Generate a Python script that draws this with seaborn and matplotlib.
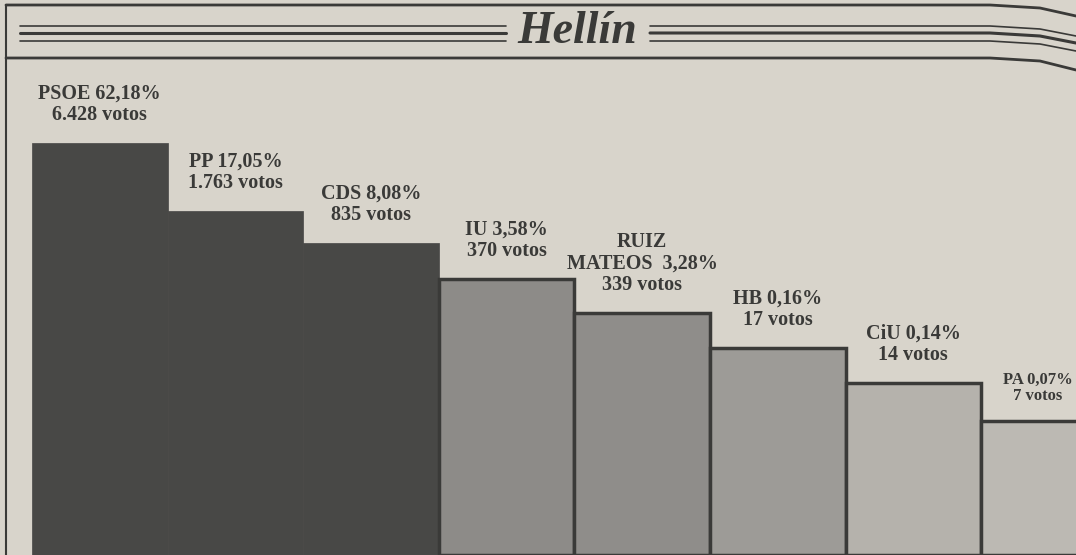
import numpy as np
import pandas as pd
import matplotlib.pyplot as plt
from matplotlib.lines import Line2D
import seaborn as sns

sns.set_theme(style="white")
plt.rcParams['font.family'] = ['Liberation Serif', 'DejaVu Serif']

# Datos: resultados en Hellín
partidos = ["PSOE", "PP", "CDS", "IU", "RUIZ MATEOS", "HB", "CiU", "PA"]
porcentajes = ["62,18%", "17,05%", "8,08%", "3,58%", "3,28%", "0,16%", "0,14%", "0,07%"]
votos = ["6.428", "1.763", "835", "370", "339", "17", "14", "7"]
# altura de cada escalón tal como sale impreso (escalera decorativa, no proporcional)
altura = [412, 344, 312, 276, 242, 207, 172, 134]
etiquetas = [
    "PSOE 62,18%\n6.428 votos",
    "PP 17,05%\n1.763 votos",
    "CDS 8,08%\n835 votos",
    "IU 3,58%\n370 votos",
    "RUIZ\nMATEOS  3,28%\n339 votos",
    "HB 0,16%\n17 votos",
    "CiU 0,14%\n14 votos",
    "PA 0,07%\n7 votos",
]
colores = ["#484846", "#484846", "#484846", "#8d8b88", "#8f8d8a", "#9d9b97", "#b5b2ac", "#bcb9b3"]

papel = "#d8d4cb"
tinta = "#3a3a38"

df = pd.DataFrame({"partido": partidos, "altura": altura})

fig = plt.figure(figsize=(10.76, 5.55), dpi=100, facecolor=papel)
ax = fig.add_axes([32 / 1076, 0, 1 - 32 / 1076, 485 / 555])
ax.set_facecolor(papel)

sns.barplot(data=df, x="partido", y="altura", hue="partido", palette=colores,
            width=1.0, legend=False, ax=ax, saturation=1)
for i, p in enumerate(ax.patches):
    if i >= 3:
        p.set_edgecolor(tinta)
        p.set_linewidth(2.5)
    else:
        p.set_edgecolor(colores[i])
        p.set_linewidth(0.5)

ax.set_ylim(0, 485)
ax.set_xlim(-0.5, 7.2)
ax.axis("off")

# etiquetas sobre cada escalón
for i, (txt, h) in enumerate(zip(etiquetas, altura)):
    if partidos[i] == "PA":
        ax.annotate(txt, xy=(i, h), xytext=(-8, 12), textcoords="offset points",
                    ha="center", va="bottom", fontsize=12, fontweight="bold",
                    color=tinta, linespacing=1.05)
    else:
        ax.annotate(txt, xy=(i, h), xytext=(0, 13), textcoords="offset points",
                    ha="center", va="bottom", fontsize=14.5, fontweight="bold",
                    color=tinta, linespacing=1.1)

# marco y cabecera
def linea(xs, ys, lw, c=tinta):
    fig.add_artist(Line2D([x / 1076 for x in xs], [1 - y / 555 for y in ys],
                          color=c, lw=lw, transform=fig.transFigure))

linea([6, 990, 1040, 1076], [5, 5, 8, 16], 2.0)
linea([6, 6], [5, 555], 1.5)
linea([6, 990, 1040, 1076], [58, 58, 61, 70], 2.0)
for y, lw in [(26, 1.2), (33, 2.2), (41, 1.2)]:
    linea([20, 506], [y, y], lw)
    linea([650, 990, 1040, 1076], [y, y, y + 3, y + 10], lw)

fig.text(577 / 1076, 1 - 32 / 555, "Hellín", ha="center", va="center",
         fontsize=33, fontweight="bold", fontstyle="italic", color=tinta)

fig.savefig("out.png", dpi=100, facecolor=papel)
